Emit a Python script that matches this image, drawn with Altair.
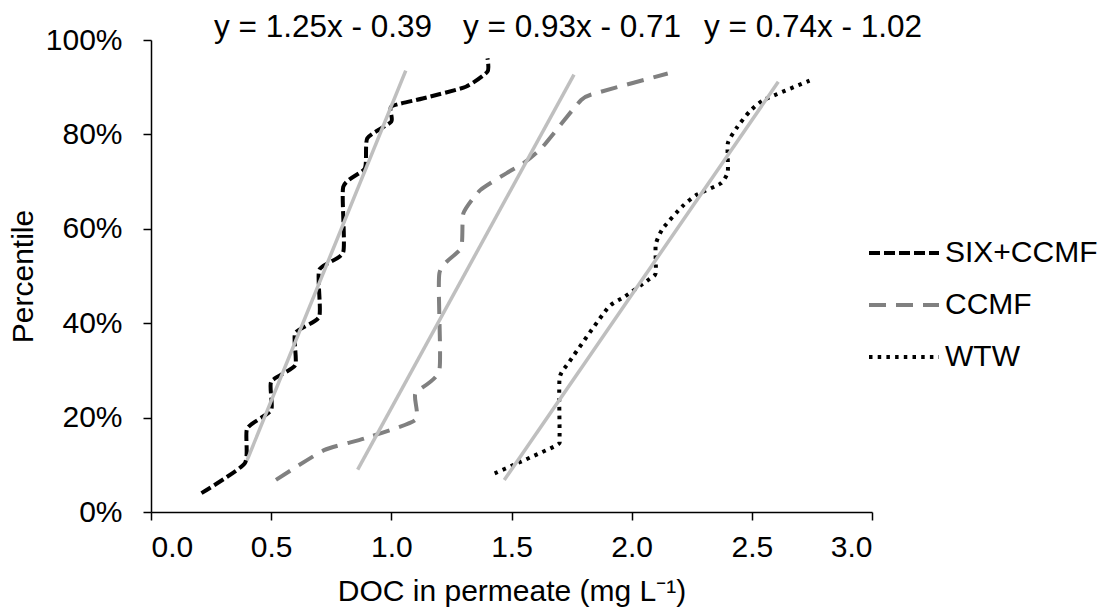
import altair as alt
import pandas as pd

FONT = "Liberation Sans"

series = ["SIX+CCMF", "CCMF", "WTW"]
colors = ["#000000", "#808080", "#000000"]
dashes = [[11, 4], [17, 10], [3.5, 5.2]]

# cumulative distributions of DOC in the permeate (mg/L vs percentile)
six_doc = [0.21, 0.39, 0.40, 0.50, 0.50, 0.60, 0.60, 0.70, 0.70, 0.80, 0.80,
           0.89, 0.90, 1.00, 1.00, 1.13, 1.31, 1.40, 1.40]
six_pct = [4.0, 10.3, 17.7, 21.6, 27.6, 31.1, 37.9, 41.4, 51.3, 55.1, 68.9,
           72.8, 79.2, 82.7, 85.9, 87.6, 90.1, 93.3, 96.1]

ccmf_doc = [0.52, 0.72, 0.89, 1.10, 1.10, 1.20, 1.20, 1.29, 1.30, 1.37, 1.48,
            1.55, 1.63, 1.79, 1.87, 2.15]
ccmf_pct = [6.8, 13.1, 15.6, 19.5, 25.1, 30.1, 50.6, 55.9, 63.3, 68.2, 71.8,
            73.9, 77.4, 87.3, 89.0, 92.9]

wtw_doc = [1.43, 1.51, 1.69, 1.70, 1.70, 1.74, 1.90, 1.97, 2.07, 2.10, 2.10,
           2.13, 2.21, 2.27, 2.37, 2.40, 2.40, 2.44, 2.49, 2.55, 2.74]
wtw_pct = [8.2, 10.0, 14.2, 16.0, 28.3, 31.8, 43.2, 45.6, 49.2, 50.6, 56.6,
           60.1, 64.7, 67.2, 69.6, 72.1, 78.1, 81.6, 84.8, 87.3, 91.4]

# linear trendlines: percentile fraction = slope * DOC + intercept
trend_slope = [1.25, 0.93, 0.74]
trend_icpt = [-0.39, -0.71, -1.02]
trend_from = [0.40, 0.86, 1.47]
trend_to = [1.06, 1.76, 2.61]

x_ticks = [0.0, 0.5, 1.0, 1.5, 2.0, 2.5, 3.0]
y_ticks = [0, 20, 40, 60, 80, 100]

rows = []
for name, xs, ps in [("SIX+CCMF", six_doc, six_pct),
                     ("CCMF", ccmf_doc, ccmf_pct),
                     ("WTW", wtw_doc, wtw_pct)]:
    for i, (x, p) in enumerate(zip(xs, ps)):
        rows.append({"series": name, "doc": x, "pct": p, "idx": i})
curves = pd.DataFrame(rows)

trows = []
for name, s, b, a, z in zip(series, trend_slope, trend_icpt, trend_from, trend_to):
    for i, x in enumerate([a, z]):
        trows.append({"series": name, "doc": x, "slope": s, "icpt": b, "idx": i})
trends = pd.DataFrame(trows)

x_scale = alt.Scale(domain=[0, 3], nice=False, zero=False)
y_scale = alt.Scale(domain=[0, 100], nice=False)

axis_style = dict(
    labelFont=FONT, titleFont=FONT, labelFontSize=30, titleFontSize=30,
    labelColor="#000", titleColor="#000", titleFontWeight="normal",
    domainColor="#000", tickColor="#000", domainWidth=1.5, tickWidth=1.5,
    grid=False, tickSize=8,
)
x_axis = alt.Axis(values=x_ticks, format=".1f", title="DOC in permeate (mg L\u207b\u00b9)",
                  labelPadding=12, titlePadding=14, **axis_style)
y_axis = alt.Axis(values=y_ticks, labelExpr="datum.value + '%'", title="Percentile",
                  labelPadding=21, titlePadding=7, **axis_style)

legend = alt.Legend(title=None, orient="none", legendX=716, legendY=176,
                    symbolType="stroke", symbolSize=4900, symbolStrokeWidth=4,
                    labelFontSize=30, labelFont=FONT, labelColor="#000",
                    labelOffset=4, rowPadding=-18, labelLimit=300)

lines = alt.Chart(curves).mark_line(strokeWidth=4, interpolate="cardinal", tension=0.45).encode(
    x=alt.X("doc:Q", scale=x_scale, axis=x_axis),
    y=alt.Y("pct:Q", scale=y_scale, axis=y_axis),
    color=alt.Color("series:N", scale=alt.Scale(domain=series, range=colors),
                    sort=series, legend=legend),
    strokeDash=alt.StrokeDash("series:N", scale=alt.Scale(domain=series, range=dashes),
                              sort=series, legend=legend),
    order="idx:Q",
    detail="series:N",
)

trend_lines = alt.Chart(trends).transform_calculate(
    tpct="(datum.slope * datum.doc + datum.icpt) * 100"
).mark_line(color="#bfbfbf", strokeWidth=3.5).encode(
    x=alt.X("doc:Q", scale=x_scale),
    y=alt.Y("tpct:Q", scale=y_scale),
    detail="series:N",
    order="idx:Q",
)

eq_labels = [f"y = {s:.2f}x - {abs(b):.2f}" for s, b in zip(trend_slope, trend_icpt)]
eq_df = pd.DataFrame({"label": eq_labels})
eq_x = [172, 421, 662]
texts = []
for i, px in enumerate(eq_x):
    texts.append(
        alt.Chart(eq_df.iloc[[i]]).mark_text(
            font=FONT, fontSize=31.5, color="#000", align="center", baseline="middle"
        ).encode(text="label:N", x=alt.value(px), y=alt.value(-12))
    )

chart = alt.layer(lines, trend_lines, *texts).properties(
    width=721, height=472,
    padding={"left": 151, "top": 40, "right": 239, "bottom": 97},
    autosize=alt.AutoSizeParams(type="none"),
    background="white",
).configure_view(stroke=None)

chart.save("out.html", embed_options={"renderer": "svg", "actions": False})
